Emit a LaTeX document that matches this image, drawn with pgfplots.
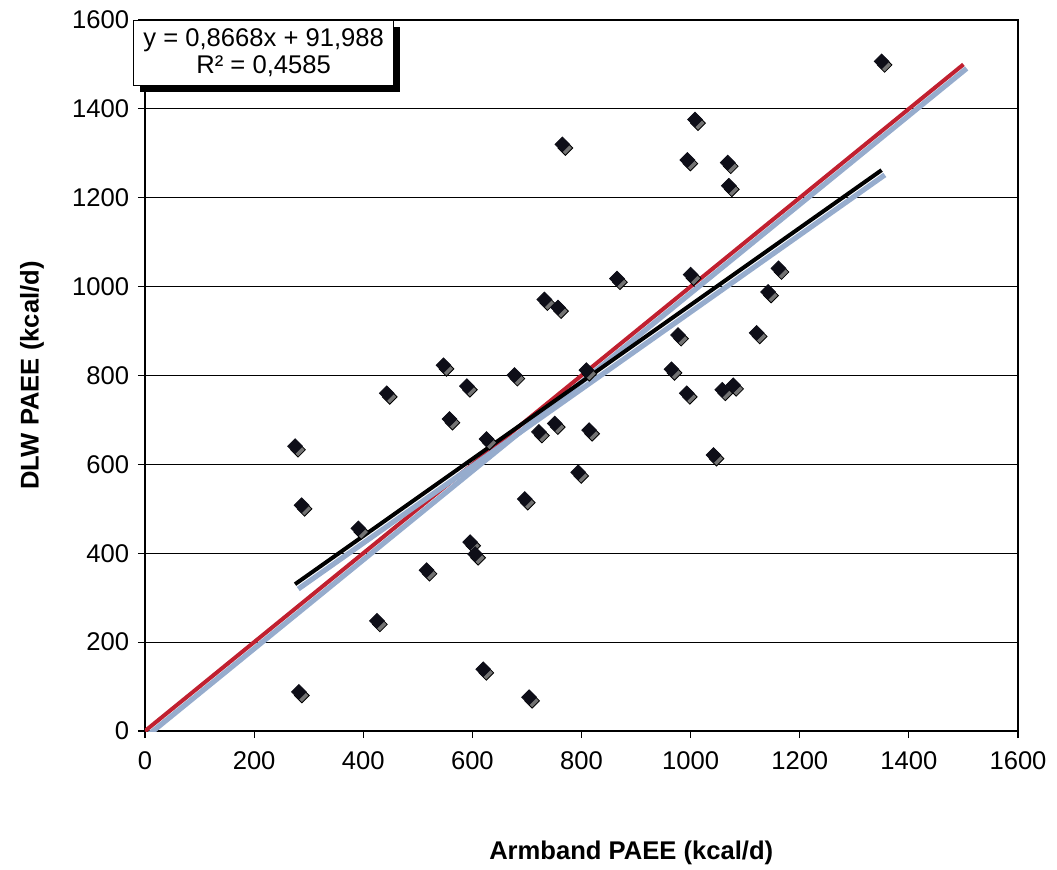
\documentclass[border=0pt]{standalone}
\usepackage{fontspec}
\setmainfont{Liberation Sans}
\usepackage{pgfplots}
\usepackage{pgfplotstable}
\pgfplotsset{compat=1.18}
\usetikzlibrary{shadows}

\definecolor{identred}{RGB}{192,32,48}
\definecolor{haloblue}{RGB}{150,172,205}
\definecolor{markink}{RGB}{14,14,24}

% Armband vs. doubly labelled water PAEE (kcal/d)
\pgfplotstableread{
x     y
1350  1507
1008  1376
765   1320
994   1285
1068  1279
1070  1227
1161  1041
1000  1027
865   1018
1142  988
732   971
757   953
1121  896
977   891
547   823
965   814
809   812
677   801
590   776
443   760
1078  778
1058  768
993   760
558   702
751   692
814   677
722   673
626   657
275   641
1042  621
794   582
696   522
287   508
391   456
596   425
605   398
516   362
425   248
620   139
282   88
704   76
}\paee

% identity line and least-squares fit (y = 0.8668x + 91.988, over the data range)
\pgfplotstableread{
x     y
0     0
1500  1500
}\identity
\pgfplotstableread{
x     y
275   330.36
1350  1262.17
}\fitline

\begin{document}
\fontsize{12.8}{15}\selectfont
\begin{tikzpicture}
\begin{axis}[
  scale only axis,
  width=436.5pt, height=355.5pt,
  xmin=0, xmax=1600, ymin=0, ymax=1600,
  xtick={0,200,...,1600}, ytick={0,200,...,1600},
  ymajorgrids,
  grid style={black, line width=0.6pt},
  axis line style={black, line width=0.9pt},
  tick pos=left, tick align=outside,
  major tick length=3.5pt,
  tick style={black, line width=0.6pt},
  /pgf/number format/assume math mode=true,
  /pgf/number format/set thousands separator={},
  ticklabel style={font=\fontsize{12.8}{15}\selectfont},
  xticklabel style={yshift=-2.5pt},
  xlabel={\textbf{Armband PAEE (kcal/d)}},
  ylabel={\textbf{DLW PAEE (kcal/d)}},
  x label style={at={(axis description cs:0.557,-0.172)}, anchor=center},
  y label style={at={(axis description cs:-0.1294,0.50)}, anchor=center},
]
  % marker shadows
  \addplot[only marks, mark=square*, mark size=2.6pt,
    mark options={xshift=1.5pt, yshift=-1.8pt, rotate=45, fill=black!55, draw=none}]
    table {\paee};
  % identity line
  \addplot[identred, line width=2pt, no marks,
    preaction={draw, haloblue, line width=2.6pt,
      transform canvas={xshift=1.6pt, yshift=-2.0pt}}]
    table {\identity};
  % trendline
  \addplot[black, line width=2pt, no marks,
    preaction={draw, haloblue, line width=2.6pt,
      transform canvas={xshift=1.6pt, yshift=-2.4pt}}]
    table {\fitline};
  % data points
  \addplot[only marks, mark=square*, mark size=2.6pt,
    mark options={rotate=45, fill=markink, draw=markink}]
    table {\paee};

  \coordinate (ll) at (rel axis cs:0,0);
  \coordinate (ur) at (rel axis cs:1,1);
  \coordinate (eqpos) at (rel axis cs:-0.0137,1);
\end{axis}
% regression equation box
\node[draw=black, line width=0.6pt, fill=white, anchor=north west,
  minimum width=130pt, minimum height=32.5pt, inner sep=1pt, align=center,
  drop shadow={shadow xshift=3pt, shadow yshift=-3pt, fill=black, opacity=1},
  font=\fontsize{12.8}{13.4}\selectfont]
  at (eqpos) {y = 0,8668x + 91,988\\R² = 0,4585};
\pgfresetboundingbox
\path[use as bounding box] ([shift={(-72.5pt,-69.5pt)}]ll) rectangle ([shift={(19.5pt,10pt)}]ur);
\end{tikzpicture}
\end{document}
